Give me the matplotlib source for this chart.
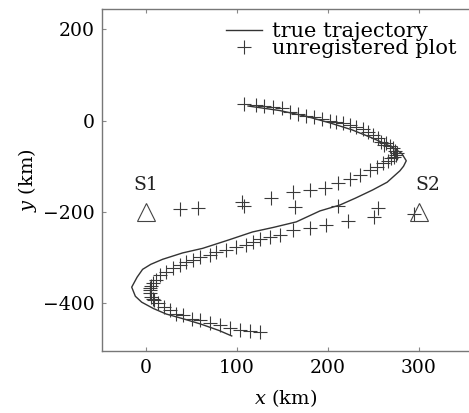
import matplotlib
matplotlib.use("Agg")
import matplotlib.pyplot as plt

plt.rcParams['font.family'] = ['DejaVu Serif']
plt.rcParams['mathtext.fontset'] = 'dejavuserif'

# ---- true trajectory (km) ----
true_x = [112, 147, 175, 202, 226, 246, 262, 272, 281, 286, 283, 279, 265,
          249, 230, 213, 191, 165, 140, 117, 90, 62, 40, 18, 5, -4, -10,
          -16, -12, -5, 8, 22, 40, 60, 80, 94]
true_y = [32, 22, 10, -5, -20, -36, -50, -60, -72, -88, -100, -110, -135,
          -152, -170, -185, -198, -222, -234, -244, -262, -280, -290, -304,
          -315, -326, -343, -365, -385, -398, -412, -424, -434, -446, -460,
          -472]

# ---- unregistered plot points (km) ----
plot_x = [108, 121, 130, 139, 149, 158, 167, 176, 185, 193, 202, 209, 216,
          224, 231, 238, 244, 249, 255, 258, 262, 264, 268, 271, 274, 276,
          275, 272, 269, 266, 260, 254, 246, 235, 224, 211, 197, 180, 161,
          137, 105, 57, 37,
          108, 164, 211, 255, 251, 294,
          222, 198, 180, 161, 147, 136, 125, 117, 110, 99, 88, 77, 70, 59,
          51, 44, 37, 29, 22, 15, 11, 7, 5, 4, 4, 4, 5, 7, 9, 13, 20, 26, 33,
          40, 50, 59, 70, 81, 92, 103, 114, 125]
plot_y = [37, 34, 32, 30, 28, 19, 14, 10, 8, 3, 0, -3, -5,
          -9, -13, -19, -24, -31, -38, -46, -54, -50, -55, -60, -66, -70,
          -75, -79, -83, -88, -93, -101, -108, -119, -128, -137, -148, -152,
          -157, -170, -178, -192, -194,
          -187, -190, -188, -192, -211, -205,
          -220, -229, -236, -240, -251, -256, -260, -265, -273, -277, -284,
          -288, -295, -299, -305, -310, -317, -322, -331, -339, -349, -357,
          -362, -367, -372, -378, -386, -390, -393, -400, -408, -415, -423,
          -427, -434, -437, -444, -448, -455, -459, -461, -463]

# ---- sensors ----
sensor_x = [0, 300]
sensor_y = [-200, -200]
sensor_names = ['S1', 'S2']

fig = plt.figure(figsize=(4.69, 4.13), dpi=100)
ax = fig.add_axes([101.7 / 469, 1 - 351 / 413, 1 - 101.7 / 469, (351 - 9.3) / 413])

ax.plot(true_x, true_y, color='#333333', lw=1.0, label='true trajectory')
ax.plot(plot_x, plot_y, ls='none', marker='+', ms=9.5, mew=0.8,
        color='#3a3a3a', label='unregistered plot')
ax.plot(sensor_x, sensor_y, ls='none', marker='^', ms=13, mfc='none',
        mec='#444444', mew=0.8)
for sx, sy, name in zip(sensor_x, sensor_y, sensor_names):
    ax.text(sx + (10 if name == 'S2' else 0), sy + 58, name, ha='center',
            va='center', fontsize=13.5, color='#222222')

ax.set_xlim(-49, 355)
ax.set_ylim(-505, 244)
ax.set_xticks([0, 100, 200, 300])
ax.set_yticks([-400, -200, 0, 200])
ax.tick_params(direction='in', length=3, width=0.8, color='#888888',
               labelsize=13.5, top=True, right=False, pad=5)
ax.tick_params(axis='x', pad=6)
for side in ['left', 'bottom', 'top']:
    ax.spines[side].set_color('#777777')
    ax.spines[side].set_linewidth(1.0)
ax.spines['right'].set_visible(False)

ax.set_xlabel('$x$ (km)', fontsize=14, labelpad=7)
ax.set_ylabel('$y$ (km)', fontsize=14, labelpad=3)

ax.legend(loc='upper right', frameon=False, fontsize=15, handlelength=1.7,
          handletextpad=0.5, labelspacing=-0.08, borderaxespad=0.4,
          borderpad=0.2)

fig.savefig('out.png', dpi=100)
